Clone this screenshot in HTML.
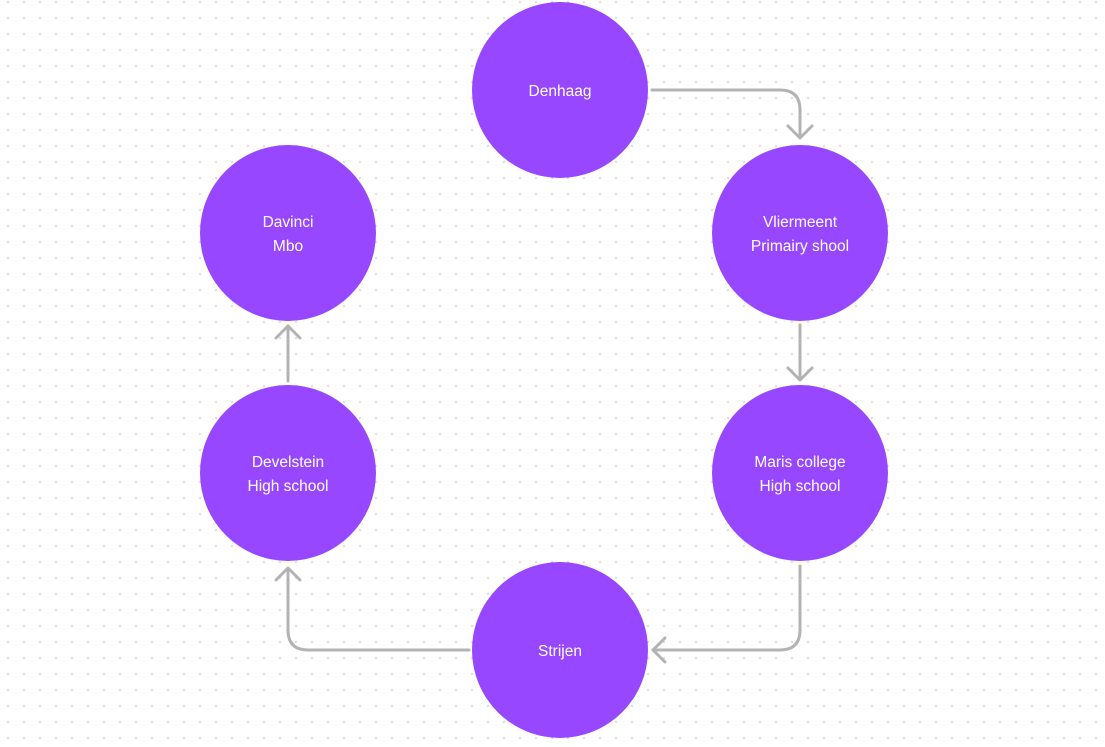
<!DOCTYPE html>
<html><head><style>
html,body{margin:0;padding:0;}
body{width:1105px;height:747px;overflow:hidden;background-color:#fff;
background-image:radial-gradient(circle,#dcdcdc 1px,transparent 1.3px);
background-size:16px 16px;background-position:0px -6px;
font-family:"Liberation Sans",sans-serif;position:relative;}
.c{position:absolute;width:176px;height:176px;border-radius:50%;background:#9747ff;color:#fff;box-sizing:border-box;padding-top:3px;
display:flex;align-items:center;justify-content:center;text-align:center;font-size:15.5px;line-height:24px;}
svg{position:absolute;left:0;top:0;}
</style></head><body>
<svg width="1105" height="747" fill="none" stroke="#b3b3b3" stroke-width="3" stroke-linecap="round" stroke-linejoin="round">
<path d="M652 90 H780 Q800 90 800 110 V137"/>
<path d="M788 126 L800 138 L812 126"/>
<path d="M800 325 V380"/>
<path d="M788 368 L800 380 L812 368"/>
<path d="M800 566 V630 Q800 650 780 650 H653"/>
<path d="M665 638 L653 650 L665 662"/>
<path d="M469 650 H308 Q288 650 288 630 V568"/>
<path d="M276 580 L288 568 L300 580"/>
<path d="M288 381 V326"/>
<path d="M276 338 L288 326 L300 338"/>
</svg>
<div class="c" style="left:472px;top:2px">Denhaag</div>
<div class="c" style="left:712px;top:145px">Vliermeent<br>Primairy shool</div>
<div class="c" style="left:712px;top:385px">Maris college<br>High school</div>
<div class="c" style="left:472px;top:562px">Strijen</div>
<div class="c" style="left:200px;top:385px">Develstein<br>High school</div>
<div class="c" style="left:200px;top:145px">Davinci<br>Mbo</div>
</body></html>
